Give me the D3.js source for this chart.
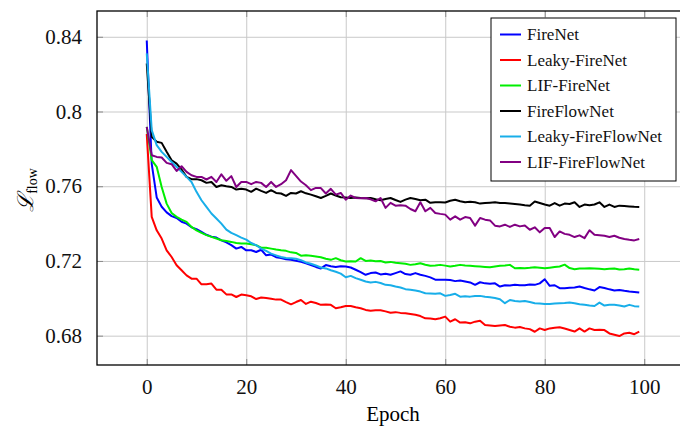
<!DOCTYPE html>
<html lang="en">
<head>
	<meta charset="UTF-8">
	<title>Flow loss per epoch</title>
	<script src="https://cdn.jsdelivr.net/npm/d3@7"></script>
	<style>
		*{
			margin: 0px;
			box-sizing: border-box;
		}
		html,body{
			width: 680px;
			height: 427px;
			overflow: hidden;
			background: #fff;
		}
		.grid line{
			stroke: #c9c9c9;
			stroke-width: 1;
		}
		.grid path{
			stroke: none;
		}
		.ticks line{
			stroke: #8a8a8a;
			stroke-width: 1;
		}
		.ticks path{
			stroke: none;
		}
		.ticks text{
			font-family: "Liberation Serif", "Times New Roman", serif;
			font-size: 21px;
			fill: #111;
		}
		.series{
			fill: none;
			stroke-width: 2;
			stroke-linejoin: round;
		}
		.legend text{
			font-family: "Liberation Serif", "Times New Roman", serif;
			font-size: 17px;
			fill: #111;
		}
	</style>
</head>
<body>
	<svg id="svg"></svg>
	<script>
		var names = ["FireNet", "Leaky-FireNet", "LIF-FireNet", "FireFlowNet", "Leaky-FireFlowNet", "LIF-FireFlowNet"];
		var colors = ["#0000ff", "#ff0000", "#00ee00", "#000000", "#18aee9", "#820082"];
		var xTicks = [0, 20, 40, 60, 80, 100];
		var yTicks = [0.68, 0.72, 0.76, 0.8, 0.84];

		var fireNet = [0.838, 0.772, 0.754, 0.749, 0.746, 0.744, 0.743, 0.741, 0.740, 0.738,
			0.737, 0.7355, 0.734, 0.733, 0.7325, 0.731, 0.730, 0.7285, 0.7266, 0.7275,
			0.7257, 0.7257, 0.7248, 0.726, 0.723, 0.7234, 0.722, 0.7216, 0.7209, 0.7206,
			0.7201, 0.7195, 0.7188, 0.7178, 0.7168, 0.716, 0.7178, 0.7172, 0.7168, 0.7172,
			0.717, 0.7165, 0.7153, 0.714, 0.7126, 0.7135, 0.7138, 0.7128, 0.7132, 0.7126,
			0.7135, 0.7144, 0.713, 0.7126, 0.7135, 0.7126, 0.712, 0.7112, 0.710, 0.7099,
			0.7100, 0.7098, 0.7092, 0.7095, 0.7090, 0.7085, 0.7072, 0.7086, 0.708, 0.7078,
			0.708, 0.7063, 0.707, 0.7068, 0.7072, 0.707, 0.707, 0.7074, 0.7072, 0.708,
			0.7102, 0.7067, 0.707, 0.7054, 0.7054, 0.7056, 0.7058, 0.7063, 0.7055, 0.7048,
			0.7042, 0.706, 0.7055, 0.7048, 0.7042, 0.7045, 0.7040, 0.7036, 0.7034, 0.7031];

		var leakyFireNet = [0.788, 0.7436, 0.7364, 0.732, 0.7257, 0.7221, 0.7177, 0.715, 0.7123, 0.7105,
			0.7105, 0.7075, 0.7075, 0.7079, 0.7046, 0.7046, 0.7021, 0.7021, 0.7007, 0.702,
			0.7016, 0.7011, 0.6996, 0.7004, 0.7002, 0.6998, 0.6993, 0.6993, 0.698, 0.6968,
			0.698, 0.6991, 0.697, 0.6982, 0.6975, 0.6965, 0.6967, 0.6965, 0.6947, 0.6952,
			0.6959, 0.6959, 0.6952, 0.6947, 0.6938, 0.6934, 0.6936, 0.6936, 0.693, 0.6923,
			0.6926, 0.6922, 0.692, 0.6916, 0.6912, 0.6905, 0.6893, 0.6892, 0.6888, 0.6893,
			0.6902, 0.6875, 0.6888, 0.687, 0.6872, 0.6866, 0.6875, 0.688, 0.6857, 0.6855,
			0.6852, 0.6855, 0.6857, 0.6848, 0.6843, 0.6846, 0.6839, 0.6835, 0.6821, 0.6839,
			0.683, 0.6839, 0.6842, 0.6845, 0.6838, 0.683, 0.6822, 0.6839, 0.6822, 0.6839,
			0.683, 0.6832, 0.683, 0.6812, 0.6805, 0.6798, 0.6812, 0.6816, 0.6808, 0.6822];

		var lifFireNet = [0.7918, 0.774, 0.7704, 0.7596, 0.7507, 0.7457, 0.7436, 0.7421, 0.7409, 0.7382,
			0.7364, 0.735, 0.7338, 0.7329, 0.732, 0.7311, 0.7307, 0.7302, 0.7296, 0.7293,
			0.7293, 0.7289, 0.7284, 0.7271, 0.7271, 0.7266, 0.7261, 0.7257, 0.7254, 0.7246,
			0.7243, 0.7228, 0.723, 0.7228, 0.7224, 0.722, 0.7212, 0.7206, 0.7215, 0.7204,
			0.7197, 0.7198, 0.7197, 0.7215, 0.720, 0.7202, 0.7198, 0.72, 0.7192, 0.7195,
			0.719, 0.7188, 0.7185, 0.7179, 0.7182, 0.7188, 0.718, 0.7174, 0.7176, 0.7179,
			0.7175, 0.717, 0.7174, 0.7179, 0.7176, 0.7174, 0.7172, 0.717, 0.7168, 0.7166,
			0.717, 0.7174, 0.7176, 0.7179, 0.7161, 0.7162, 0.7161, 0.7163, 0.7166, 0.7164,
			0.7161, 0.7164, 0.7167, 0.717, 0.718, 0.7162, 0.7156, 0.7159, 0.716, 0.7161,
			0.716, 0.7158, 0.7156, 0.7158, 0.716, 0.7154, 0.7156, 0.716, 0.7155, 0.7153];

		var fireFlowNet = [0.8257, 0.7864, 0.7838, 0.7832, 0.7784, 0.7739, 0.7721, 0.7689, 0.765, 0.7638,
			0.7638, 0.7632, 0.7618, 0.7623, 0.7596, 0.7605, 0.760, 0.7596, 0.7582, 0.7587,
			0.7582, 0.757, 0.7587, 0.7575, 0.7564, 0.7579, 0.7564, 0.7561, 0.7548, 0.7564,
			0.7561, 0.7573, 0.7562, 0.7555, 0.7546, 0.7537, 0.7548, 0.7561, 0.755, 0.7541,
			0.754, 0.7537, 0.754, 0.7537, 0.7535, 0.7537, 0.753, 0.7525, 0.7532, 0.7537,
			0.7526, 0.7516, 0.7528, 0.7537, 0.7532, 0.7525, 0.7528, 0.7511, 0.7514, 0.7514,
			0.7513, 0.7522, 0.7528, 0.752, 0.7514, 0.7517, 0.7514, 0.7507, 0.751, 0.7512,
			0.7514, 0.751, 0.751, 0.7508, 0.7505, 0.7502, 0.7498, 0.7496, 0.7518, 0.751,
			0.7502, 0.7496, 0.751, 0.7496, 0.7507, 0.7505, 0.7514, 0.7489, 0.7502, 0.7498,
			0.7502, 0.7514, 0.7489, 0.7502, 0.7489, 0.7496, 0.7494, 0.7492, 0.749, 0.7489];

		var leakyFireFlowNet = [0.8311, 0.79, 0.782, 0.7784, 0.7757, 0.773, 0.7704, 0.7677, 0.765, 0.7623,
			0.757, 0.7525, 0.7489, 0.7454, 0.7427, 0.740, 0.7368, 0.735, 0.7338, 0.7325,
			0.7314, 0.7296, 0.7284, 0.7266, 0.7254, 0.7239, 0.723, 0.7221, 0.7216, 0.7215,
			0.7212, 0.7204, 0.7192, 0.7185, 0.7176, 0.7165, 0.716, 0.715, 0.7142, 0.7132,
			0.7113, 0.712, 0.7108, 0.7099, 0.709, 0.7085, 0.7088, 0.7082, 0.7072, 0.707,
			0.7063, 0.7058, 0.7049, 0.7046, 0.7042, 0.7036, 0.7027, 0.7026, 0.7024, 0.7027,
			0.7013, 0.7018, 0.7024, 0.7009, 0.7011, 0.7009, 0.7012, 0.7013, 0.7008, 0.7006,
			0.7002, 0.6995, 0.6974, 0.6991, 0.6986, 0.6983, 0.6986, 0.698, 0.6974, 0.6972,
			0.697, 0.697, 0.6972, 0.6974, 0.6975, 0.6977, 0.6974, 0.6968, 0.6965, 0.6961,
			0.6959, 0.6977, 0.6961, 0.6965, 0.6965, 0.6962, 0.6956, 0.6965, 0.6958, 0.6956];

		var lifFireFlowNet = [0.7918, 0.7766, 0.7757, 0.7754, 0.7725, 0.7718, 0.7682, 0.7707, 0.7677, 0.7659,
			0.765, 0.765, 0.7636, 0.765, 0.7623, 0.7664, 0.7629, 0.7654, 0.7596, 0.7623,
			0.7623, 0.7611, 0.7623, 0.7618, 0.7596, 0.7623, 0.7596, 0.7611, 0.7632, 0.7686,
			0.7655, 0.7625, 0.7605, 0.7579, 0.7591, 0.759, 0.7561, 0.7586, 0.7555, 0.7564,
			0.7528, 0.755, 0.7537, 0.7535, 0.7537, 0.753, 0.7519, 0.7537, 0.7484, 0.7511,
			0.7496, 0.7498, 0.7496, 0.7478, 0.7466, 0.7514, 0.7466, 0.7484, 0.7457, 0.7452,
			0.7448, 0.7421, 0.7439, 0.7421, 0.7435, 0.743, 0.7389, 0.743, 0.7421, 0.7417,
			0.7389, 0.7385, 0.7394, 0.7382, 0.7394, 0.7385, 0.739, 0.7367, 0.738, 0.7353,
			0.7376, 0.7376, 0.7328, 0.7358, 0.7345, 0.734, 0.7328, 0.7337, 0.7322, 0.7364,
			0.734, 0.7338, 0.7335, 0.7328, 0.7335, 0.7324, 0.7317, 0.7313, 0.731, 0.7317];

		var series = [fireNet, leakyFireNet, lifFireNet, fireFlowNet, leakyFireFlowNet, lifFireFlowNet];

		var w = 680, h = 427,
			box = {left: 97, top: 11, right: 689, bottom: 365},
			svg = d3.select("#svg").attr("width", w).attr("height", h);

		var x = d3.scaleLinear().domain([-10, 109]).range([box.left, box.right]);
		var y = d3.scaleLinear().domain([0.6643, 0.8538]).range([box.bottom, box.top]);
		var fmt = function(d) { return String(+d.toFixed(2)); };

		// grid
		svg.append("g").attr("class", "grid")
			.attr("transform", "translate(0," + box.bottom + ")")
			.call(d3.axisBottom(x).tickValues(xTicks).tickSize(-(box.bottom - box.top)).tickFormat(""));
		svg.append("g").attr("class", "grid")
			.attr("transform", "translate(" + box.left + ",0)")
			.call(d3.axisLeft(y).tickValues(yTicks).tickSize(-(box.right - box.left)).tickFormat(""));

		// tick marks on all four sides, pointing in
		svg.append("g").attr("class", "ticks")
			.attr("transform", "translate(0," + box.bottom + ")")
			.call(d3.axisBottom(x).tickValues(xTicks).tickSize(-6).tickPadding(14).tickFormat(fmt))
			.selectAll("text").attr("dy", "0.71em");
		svg.append("g").attr("class", "ticks")
			.attr("transform", "translate(0," + box.top + ")")
			.call(d3.axisTop(x).tickValues(xTicks).tickSize(-6).tickFormat(""));
		svg.append("g").attr("class", "ticks")
			.attr("transform", "translate(" + box.left + ",0)")
			.call(d3.axisLeft(y).tickValues(yTicks).tickSize(-6).tickPadding(15).tickFormat(fmt));
		svg.append("g").attr("class", "ticks")
			.attr("transform", "translate(" + box.right + ",0)")
			.call(d3.axisRight(y).tickValues(yTicks).tickSize(-6).tickFormat(""));

		// curves
		var line = d3.line()
			.x(function(d, i) { return x(i); })
			.y(function(d) { return y(d); });
		svg.append("g").selectAll("path")
			.data(series)
			.enter().append("path")
			.attr("class", "series")
			.attr("stroke", function(d, i) { return colors[i]; })
			.attr("d", line);

		// frame
		svg.append("rect")
			.attr("x", box.left).attr("y", box.top)
			.attr("width", box.right - box.left).attr("height", box.bottom - box.top)
			.attr("fill", "none").attr("stroke", "#000").attr("stroke-width", 1.3);

		// axis titles
		svg.append("text")
			.attr("x", (box.left + box.right) / 2).attr("y", 421)
			.attr("text-anchor", "middle")
			.style("font-family", "'Liberation Serif', serif")
			.style("font-size", "21px")
			.text("Epoch");

		var yl = svg.append("text")
			.attr("transform", "translate(33,190) rotate(-90)")
			.attr("text-anchor", "middle")
			.style("font-family", "'DejaVu Serif', serif");
		yl.append("tspan").style("font-size", "22px").style("font-style", "italic").text("ℒ");
		yl.append("tspan").attr("dy", 4).style("font-size", "14px")
			.style("font-family", "'Liberation Serif', serif").text("flow");

		// legend
		var lg = svg.append("g").attr("class", "legend");
		lg.append("rect")
			.attr("x", 491).attr("y", 18).attr("width", 185).attr("height", 163)
			.attr("fill", "#fff").attr("stroke", "#000").attr("stroke-width", 1);
		var item = lg.selectAll("g.item")
			.data(names)
			.enter().append("g")
			.attr("class", "item")
			.attr("transform", function(d, i) { return "translate(0," + (34.5 + i * 25.5) + ")"; });
		item.append("line")
			.attr("x1", 500).attr("x2", 521)
			.attr("stroke", function(d, i) { return colors[i]; })
			.attr("stroke-width", 2);
		item.append("text")
			.attr("x", 527).attr("dy", "0.33em")
			.text(function(d) { return d; });
	</script>
</body>
</html>
